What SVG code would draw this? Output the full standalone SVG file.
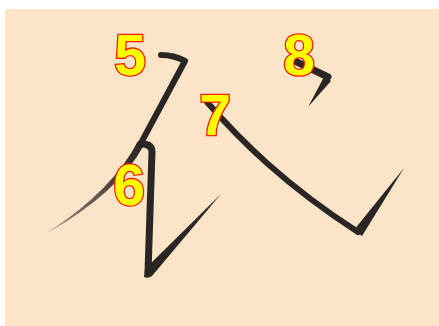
<svg xmlns="http://www.w3.org/2000/svg" width="439" height="326" viewBox="0 0 439 326">
<defs>
<style>
.ink{fill:none;stroke:#2a2624;stroke-linecap:round;stroke-linejoin:round}
.inkf{fill:#2a2624}
.num{font-family:"Liberation Sans",Arial,sans-serif;font-weight:bold;font-size:57px;fill:#ffff00;stroke:#ff1a00;stroke-width:2.6;paint-order:stroke;text-anchor:middle}
</style>
<linearGradient id="tail5" gradientUnits="userSpaceOnUse" x1="141" y1="143" x2="47" y2="233">
<stop offset="0" stop-color="#2a2624"/>
<stop offset="0.35" stop-color="#4a3f3a"/>
<stop offset="1" stop-color="#9a8a7e"/>
</linearGradient>
</defs>
<rect x="0" y="0" width="439" height="326" fill="#ffffff"/>
<rect x="5" y="9" width="434" height="317" fill="#fbe4c8"/>
<g id="stroke5">
<path class="ink" d="M161,55 Q174,55 185,61 L141,143" stroke-width="6"/>
<path d="M138,141 Q113,190 47,233 Q118,193 144,145 Z" fill="url(#tail5)"/>
</g>
<g id="stroke6">
<path class="ink" d="M142,144 Q152,144 152,152 L148,272" stroke-width="7"/>
<path class="inkf" d="M145,269 L221,194 L152,276 Q148,279 144,277 Z"/>
</g>
<g id="stroke7">
<path class="ink" d="M207,102 C240,140 285,185 358,232" stroke-width="6"/>
<path class="inkf" d="M354,230 L404,168 L362,236 Z"/>
</g>
<g id="stroke8">
<path class="ink" d="M297,62 L328,77" stroke-width="7"/>
<path class="inkf" d="M325,75 L331,81 L308,107 Z"/>
</g>
<g id="labels">
<text class="num" x="130" y="75">5</text>
<text class="num" x="129" y="205">6</text>
<text class="num" x="215" y="135">7</text>
<text class="num" x="299" y="75">8</text>
</g>
</svg>
